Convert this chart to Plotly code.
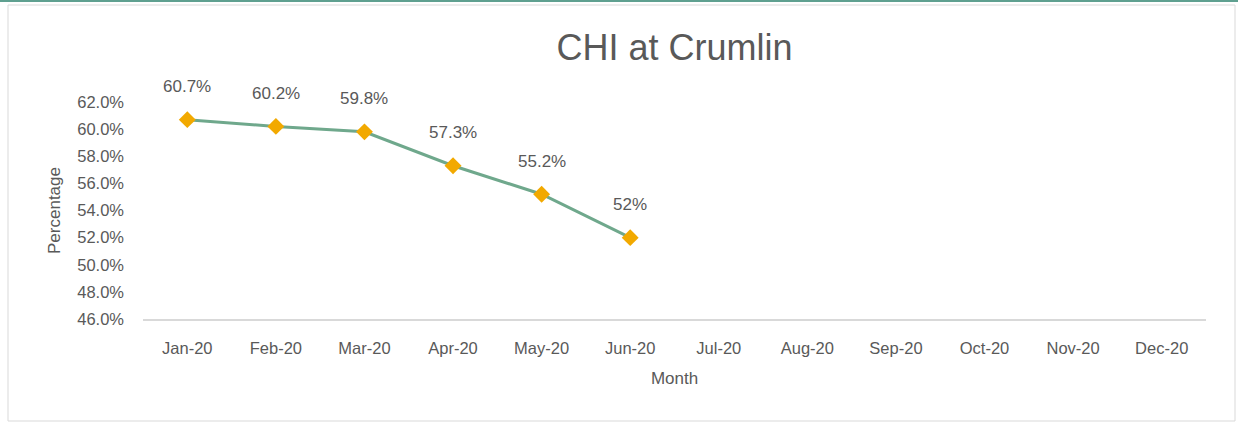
import plotly.graph_objects as go

months = ["Jan-20", "Feb-20", "Mar-20", "Apr-20", "May-20", "Jun-20",
          "Jul-20", "Aug-20", "Sep-20", "Oct-20", "Nov-20", "Dec-20"]
values = [60.7, 60.2, 59.8, 57.3, 55.2, 52.0]
labels = ["60.7%", "60.2%", "59.8%", "57.3%", "55.2%", "52%"]
y_ticks = [46, 48, 50, 52, 54, 56, 58, 60, 62]

W, H = 1238, 426
L, R, T, B = 143, 32, 102, 107
pw, ph = W - L - R, H - T - B

def px(x):
    return (x - L) / pw

def py(y):
    return (H - B - y) / ph

FONT = "Liberation Sans, Arial, sans-serif"
GREY = "#595959"

fig = go.Figure()
fig.add_trace(go.Scatter(
    x=months[:len(values)], y=values, mode="lines+markers",
    line=dict(color="#6FA88C", width=3),
    marker=dict(symbol="diamond", size=13, color="#F2A900",
                line=dict(width=0)),
    cliponaxis=False, showlegend=False, hoverinfo="x+y",
))

for m, v, t in zip(months, values, labels):
    fig.add_annotation(x=m, y=v, text=t, showarrow=False, yshift=33,
                       font=dict(family=FONT, size=17, color=GREY))

shapes = [
    dict(type="rect", xref="paper", yref="paper",
         x0=px(8), x1=px(1235), y0=py(421), y1=py(5),
         line=dict(color="#D9D9D9", width=1), fillcolor="rgba(0,0,0,0)", layer="below"),
    dict(type="line", xref="paper", yref="paper",
         x0=px(0), x1=px(1238), y0=py(1), y1=py(1),
         line=dict(color="#5FA090", width=2)),
]

fig.update_layout(
    width=W, height=H,
    margin=dict(l=L, r=R, t=T, b=B, autoexpand=False),
    paper_bgcolor="white", plot_bgcolor="white",
    font=dict(family=FONT, color=GREY),
    title=dict(text="CHI at Crumlin", x=0.5, xref="paper", xanchor="center",
               y=1 - 47 / H, yref="container", yanchor="middle",
               font=dict(family=FONT, size=36, color=GREY)),
    shapes=shapes,
    xaxis=dict(
        type="category", categoryorder="array", categoryarray=months,
        range=[-0.5, 11.5], tickvals=months, ticktext=months,
        showgrid=False, zeroline=False,
        showline=True, linecolor="#D9D9D9", linewidth=2,
        ticks="", ticklabelstandoff=13,
        tickfont=dict(family=FONT, size=16.5, color=GREY),
        title=dict(text="Month", standoff=16,
                   font=dict(family=FONT, size=17, color=GREY)),
    ),
    yaxis=dict(
        range=[46, 62], tickvals=y_ticks,
        ticktext=[f"{v:.1f}%" for v in y_ticks],
        showgrid=False, zeroline=False, showline=False,
        ticks="", ticklabelstandoff=18,
        tickfont=dict(family=FONT, size=16.5, color=GREY),
        title=dict(text="Percentage", standoff=12,
                   font=dict(family=FONT, size=17, color=GREY)),
    ),
)

fig.write_html("out.html", config={"displayModeBar": False},
               post_script="document.body.style.margin='0';")
